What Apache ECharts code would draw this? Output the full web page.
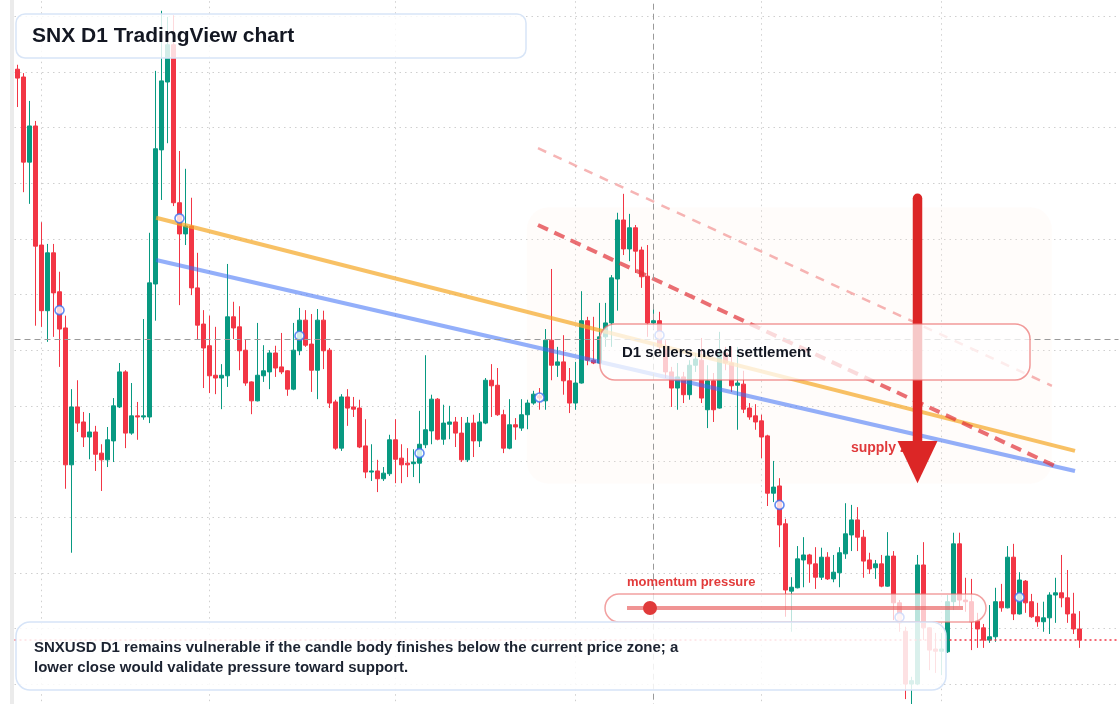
<!DOCTYPE html>
<html><head><meta charset="utf-8">
<script src="https://cdn.jsdelivr.net/npm/echarts@6/dist/echarts.min.js"></script>
<style>html,body{margin:0;padding:0;background:#fff}#c{width:1120px;height:704px}</style>
</head><body><div id="c"></div>
<script>
// ---------- DATA ----------
const totalSlots = 184;            // 178 daily candles + empty future space
const firstDay = [2025, 0, 28];
// [open, close, low, high]
const candles = [
[1.705,1.689,1.637,1.713],[1.691,1.538,1.484,1.698],[1.538,1.603,1.463,1.648],[1.603,1.387,1.244,1.612],[1.389,1.271,1.242,1.430],
[1.271,1.375,1.215,1.391],[1.375,1.303,1.224,1.391],[1.305,1.238,1.170,1.341],[1.240,0.994,0.951,1.262],[0.994,1.098,0.836,1.130],
[1.098,1.069,1.053,1.146],[1.071,1.044,1.026,1.089],[1.044,1.053,1.004,1.087],[1.053,1.013,0.983,1.064],[1.015,1.003,0.947,1.031],
[1.003,1.039,0.990,1.062],[1.037,1.100,0.999,1.114],[1.098,1.161,1.096,1.177],[1.161,1.051,1.024,1.164],[1.051,1.082,1.048,1.141],
[1.082,1.080,1.039,1.107],[1.080,1.082,1.075,1.256],[1.080,1.321,1.069,1.411],[1.319,1.562,1.253,1.702],[1.560,1.684,1.470,1.810],
[1.682,1.749,1.572,1.799],[1.749,1.465,1.459,1.802],[1.465,1.409,1.281,1.558],[1.409,1.423,1.389,1.526],[1.423,1.312,1.299,1.474],
[1.312,1.245,1.220,1.375],[1.247,1.204,1.132,1.272],[1.208,1.154,1.123,1.262],[1.155,1.150,1.121,1.242],[1.150,1.155,1.094,1.175],
[1.154,1.260,1.134,1.355],[1.260,1.240,1.220,1.287],[1.242,1.199,1.164,1.279],[1.200,1.141,1.136,1.220],[1.143,1.109,1.085,1.144],
[1.109,1.155,1.108,1.249],[1.154,1.163,1.143,1.209],[1.161,1.195,1.130,1.200],[1.195,1.168,1.152,1.208],[1.170,1.161,1.157,1.231],
[1.163,1.130,1.118,1.164],[1.130,1.200,1.128,1.249],[1.199,1.254,1.191,1.276],[1.254,1.209,1.206,1.272],[1.211,1.164,1.125,1.265],
[1.164,1.254,1.112,1.274],[1.254,1.199,1.166,1.271],[1.200,1.105,1.096,1.204],[1.107,1.024,1.021,1.111],[1.024,1.116,1.019,1.121],
[1.116,1.096,1.064,1.130],[1.098,1.094,1.080,1.116],[1.096,1.026,1.024,1.111],[1.028,0.981,0.970,1.076],[0.981,0.983,0.965,1.031],
[0.983,0.969,0.945,1.003],[0.969,0.979,0.965,0.990],[0.978,1.039,0.974,1.048],[1.039,1.004,0.961,1.076],[1.006,0.994,0.961,1.031],
[0.997,0.994,0.972,1.024],[0.996,0.999,0.972,1.022],[0.997,1.031,0.961,1.091],[1.030,1.057,1.024,1.191],[1.055,1.112,1.031,1.120],
[1.112,1.040,1.038,1.114],[1.040,1.069,1.030,1.102],[1.067,1.071,1.040,1.100],[1.071,1.051,1.026,1.080],[1.051,1.003,0.999,1.080],
[1.003,1.069,0.999,1.080],[1.069,1.037,1.008,1.084],[1.037,1.071,1.026,1.087],[1.069,1.146,1.067,1.150],[1.146,1.136,1.080,1.175],
[1.137,1.084,1.082,1.168],[1.084,1.024,1.015,1.093],[1.024,1.066,1.022,1.112],[1.066,1.062,1.039,1.078],[1.060,1.084,1.055,1.112],
[1.084,1.105,1.058,1.111],[1.105,1.121,1.102,1.127],[1.118,1.114,1.093,1.132],[1.109,1.218,1.093,1.238],[1.218,1.173,1.146,1.346],
[1.173,1.179,1.152,1.206],[1.179,1.145,1.120,1.227],[1.145,1.105,1.087,1.168],[1.105,1.141,1.093,1.179],[1.141,1.253,1.140,1.306],
[1.253,1.182,1.173,1.260],[1.182,1.177,1.175,1.260],[1.177,1.224,1.175,1.285],[1.224,1.249,1.206,1.285],[1.249,1.330,1.206,1.335],
[1.328,1.434,1.271,1.447],[1.434,1.382,1.371,1.481],[1.382,1.420,1.360,1.445],[1.420,1.378,1.339,1.425],[1.380,1.332,1.312,1.386],
[1.333,1.249,1.224,1.389],[1.249,1.253,1.236,1.281],[1.253,1.206,1.197,1.269],[1.206,1.161,1.150,1.218],[1.161,1.132,1.098,1.170],
[1.132,1.152,1.093,1.177],[1.152,1.120,1.105,1.161],[1.120,1.173,1.111,1.182],[1.173,1.184,1.161,1.195],[1.182,1.114,1.105,1.222],
[1.093,1.145,1.060,1.173],[1.145,1.093,1.071,1.159],[1.096,1.195,1.095,1.233],[1.195,1.177,1.164,1.206],[1.177,1.136,1.125,1.206],
[1.137,1.141,1.057,1.206],[1.139,1.094,1.087,1.163],[1.096,1.080,1.075,1.105],[1.082,1.071,1.057,1.103],[1.073,1.044,1.006,1.084],
[1.046,0.943,0.920,1.048],[0.943,0.954,0.927,1.001],[0.956,0.886,0.846,0.970],[0.888,0.769,0.721,0.897],[0.767,0.774,0.694,0.792],
[0.773,0.825,0.772,0.848],[0.823,0.832,0.774,0.864],[0.832,0.816,0.782,0.834],[0.816,0.792,0.771,0.846],[0.792,0.828,0.787,0.845],
[0.828,0.789,0.787,0.837],[0.789,0.801,0.783,0.832],[0.800,0.836,0.774,0.846],[0.834,0.870,0.825,0.925],[0.868,0.895,0.839,0.922],
[0.895,0.864,0.839,0.918],[0.864,0.821,0.791,0.877],[0.823,0.807,0.798,0.836],[0.809,0.816,0.789,0.823],[0.816,0.776,0.774,0.832],
[0.776,0.830,0.775,0.873],[0.830,0.746,0.715,0.839],[0.746,0.710,0.694,0.751],[0.695,0.600,0.573,0.703],[0.600,0.606,0.564,0.613],
[0.600,0.814,0.598,0.832],[0.814,0.701,0.679,0.855],[0.701,0.661,0.625,0.702],[0.663,0.659,0.620,0.692],[0.659,0.663,0.616,0.692],
[0.658,0.748,0.656,0.760],[0.748,0.852,0.733,0.872],[0.852,0.751,0.740,0.872],[0.751,0.748,0.730,0.791],[0.748,0.712,0.661,0.789],
[0.713,0.699,0.665,0.728],[0.701,0.679,0.665,0.708],[0.679,0.685,0.674,0.742],[0.685,0.748,0.676,0.773],[0.748,0.737,0.730,0.780],
[0.737,0.828,0.736,0.848],[0.828,0.726,0.715,0.852],[0.726,0.787,0.725,0.801],[0.785,0.746,0.728,0.787],[0.748,0.721,0.719,0.762],
[0.721,0.712,0.703,0.746],[0.712,0.719,0.694,0.748],[0.719,0.760,0.690,0.765],[0.760,0.764,0.710,0.791],[0.764,0.755,0.738,0.832],
[0.755,0.726,0.710,0.805],[0.726,0.699,0.690,0.764],[0.699,0.679,0.665,0.731]
];
// blue circle markers (candle index, value)
const markerIdx = [7, 27, 47, 67, 87, 107, 127, 147, 167];
const markerVal = [1.272, 1.437, 1.226, 1.015, 1.115, 1.227, 0.922, 0.720, 0.756];
// trend lines [index, value]
const orangeTrend = [[23.1, 1.438], [176.25, 1.019]];
const blueTrend   = [[23.1, 1.362], [176.25, 0.983]];
const redDash     = [[86.75, 1.425], [172.9, 0.992]];
const pinkDash    = [[86.75, 1.563], [172.4, 1.136]];
// month separators (candle index), crosshair
const monthIdx = [4, 32, 63, 93, 124, 154];
const crossIdx = 106;
const crossVal = 1.222;
const lastPrice = candles[candles.length - 1][1];
// highlighted zone [index, value] corners, arrow
const zoneFrom = [84.9, 0.960];
const zoneTo   = [172.4, 1.457];
const arrowIdx = 150;
const arrowTop = 1.473;
const arrowHeadTop = 1.037;
const arrowTip = 0.961;
const supplyAt = [138.9, 1.024];

// ---------- BUILD ----------
const dates = [];
for (let i = 0; i < totalSlots; i++) {
  const d = new Date(Date.UTC(firstDay[0], firstDay[1], firstDay[2] + i));
  dates.push(d.toISOString().slice(0, 10));
}
const FONT = '"Liberation Sans", Arial, Helvetica, sans-serif';
const UP = '#089981', DOWN = '#f23645';
const GRID_DOT = { color: '#cfcfcf', type: [1.5, 4], width: 1 };
const chart = echarts.init(document.getElementById('c'), null, { renderer: 'canvas' });
const noLine = { symbol: ['none', 'none'], silent: true, label: { show: false } };
const option = {
  animation: false,
  backgroundColor: '#ffffff',
  grid: { left: 14.5, right: 1.5, top: -39.3, bottom: -35.7, containLabel: false, outerBoundsMode: 'none' },
  xAxis: [
    { type: 'category', data: dates, boundaryGap: true, axisLine: { show: false }, axisTick: { show: false },
      axisLabel: { show: false }, splitLine: { show: false } },
    { type: 'value', min: -0.5, max: totalSlots - 0.5, show: false, splitLine: { show: false } }
  ],
  yAxis: { type: 'value', min: 0.5, max: 1.9, interval: 0.1, axisLine: { show: false }, axisTick: { show: false },
    axisLabel: { show: false }, splitLine: { show: true, lineStyle: GRID_DOT } },
  series: [
    { type: 'line', name: 'months', xAxisIndex: 1, data: [], z: 1, silent: true,
      markLine: Object.assign({}, noLine, { z: 1, lineStyle: GRID_DOT, data: monthIdx.map(i => ({ xAxis: i })) }) },
    { type: 'candlestick', name: 'SNXUSD', xAxisIndex: 0, data: candles, barWidth: 4, z: 2, silent: true,
      itemStyle: { color: UP, color0: DOWN, borderColor: UP, borderColor0: DOWN, borderWidth: 1 } },
    { type: 'line', xAxisIndex: 1, data: orangeTrend, symbol: 'none', z: 3, silent: true,
      lineStyle: { color: 'rgba(245,166,35,0.7)', width: 4 } },
    { type: 'line', xAxisIndex: 1, data: blueTrend, symbol: 'none', z: 3, silent: true,
      lineStyle: { color: 'rgba(59,110,245,0.55)', width: 4 } },
    { type: 'line', xAxisIndex: 1, data: pinkDash, symbol: 'none', z: 3, silent: true,
      lineStyle: { color: 'rgba(235,90,90,0.45)', width: 2.5, type: [9, 8] } },
    { type: 'line', xAxisIndex: 1, data: redDash, symbol: 'none', z: 3, silent: true,
      lineStyle: { color: 'rgba(225,50,55,0.7)', width: 4, type: [11, 7] } },
    { type: 'scatter', xAxisIndex: 1, data: markerIdx.map((i, k) => [i, markerVal[k]]), symbol: 'circle', symbolSize: 9,
      z: 4, silent: true, itemStyle: { color: '#ffffff', borderColor: '#3b6ff0', borderWidth: 1.6 } },
    { type: 'line', name: 'cross', xAxisIndex: 1, data: [], z: 5, silent: true,
      markLine: Object.assign({}, noLine, { z: 5, data: [
        { xAxis: crossIdx, lineStyle: { color: '#9a9a9a', type: [6, 4], width: 1 } },
        { yAxis: crossVal, lineStyle: { color: '#9a9a9a', type: [6, 4], width: 1 } },
        { yAxis: lastPrice, lineStyle: { color: '#f23645', type: [2, 3], width: 1.5, opacity: 1 } }
      ] }) }
  ]
};
chart.setOption(option);

const px = (x, y) => chart.convertToPixel({ xAxisIndex: 1, yAxisIndex: 0 }, [x, y]);
const zA = px(zoneFrom[0], zoneTo[1]), zB = px(zoneTo[0], zoneFrom[1]);
const aTop = px(arrowIdx, arrowTop), aHead = px(arrowIdx, arrowHeadTop), aTip = px(arrowIdx, arrowTip);
const sp = px(supplyAt[0], supplyAt[1]);
const txt = (text, x, y, font, fill, z) => ({ type: 'text', x: x, y: y, z: z, silent: true,
  style: { text: text, font: font, fill: fill, verticalAlign: 'middle', textVerticalAlign: 'middle' } });

chart.setOption({ graphic: { elements: [
  { type: 'rect', z: 0, silent: true, shape: { x: 10, y: 0, width: 4, height: 704 }, style: { fill: '#ebebeb' } },
  { type: 'rect', z: 1, silent: true, shape: { x: zA[0], y: zA[1], width: zB[0] - zA[0], height: zB[1] - zA[1], r: 22 },
    style: { fill: 'rgba(252,236,222,0.16)' } },
  txt('supply zone', sp[0], sp[1], 'bold 14px ' + FONT, '#e0393b', 40),
  { type: 'line', z: 50, silent: true, shape: { x1: aTop[0], y1: aTop[1], x2: aHead[0], y2: aHead[1] + 4 },
    style: { stroke: '#dc2626', lineWidth: 9.5, lineCap: 'round' } },
  { type: 'polygon', z: 50, silent: true,
    shape: { points: [[aHead[0] - 20, aHead[1]], [aHead[0] + 20, aHead[1]], [aTip[0], aTip[1]]] },
    style: { fill: '#dc2626' } },
  // title
  { type: 'rect', z: 100, silent: true, shape: { x: 16, y: 14, width: 510, height: 44, r: 9 },
    style: { fill: 'rgba(255,255,255,0.82)', stroke: '#d8e5f7', lineWidth: 1.5 } },
  txt('SNX D1 TradingView chart', 32, 36, 'bold 21px ' + FONT, '#131722', 101),
  // callout
  { type: 'rect', z: 100, silent: true, shape: { x: 600, y: 324, width: 430, height: 56, r: 15 },
    style: { fill: 'rgba(255,255,255,0.75)', stroke: 'rgba(235,110,110,0.7)', lineWidth: 1.5 } },
  txt('D1 sellers need settlement', 622, 353, 'bold 15px ' + FONT, '#131722', 101),
  // momentum pill
  txt('momentum pressure', 627, 582, 'bold 13px ' + FONT, '#e23b3b', 101),
  { type: 'rect', z: 100, silent: true, shape: { x: 605, y: 594, width: 381, height: 28, r: 14 },
    style: { fill: 'rgba(255,255,255,0.72)', stroke: 'rgba(235,110,110,0.65)', lineWidth: 1.5 } },
  { type: 'line', z: 101, silent: true, shape: { x1: 627, y1: 608, x2: 963, y2: 608 },
    style: { stroke: 'rgba(232,90,90,0.65)', lineWidth: 4 } },
  { type: 'circle', z: 102, silent: true, shape: { cx: 650, cy: 608, r: 7 }, style: { fill: '#e03a3a' } },
  // note
  { type: 'rect', z: 100, silent: true, shape: { x: 16, y: 622, width: 930, height: 68, r: 14 },
    style: { fill: 'rgba(255,255,255,0.85)', stroke: '#d6e4f8', lineWidth: 1.5 } },
  txt('SNXUSD D1 remains vulnerable if the candle body finishes below the current price zone; a', 34, 648, 'bold 15px ' + FONT, '#1c2331', 101),
  txt('lower close would validate pressure toward support.', 34, 668, 'bold 15px ' + FONT, '#1c2331', 101)
] } });
</script>
</body></html>
